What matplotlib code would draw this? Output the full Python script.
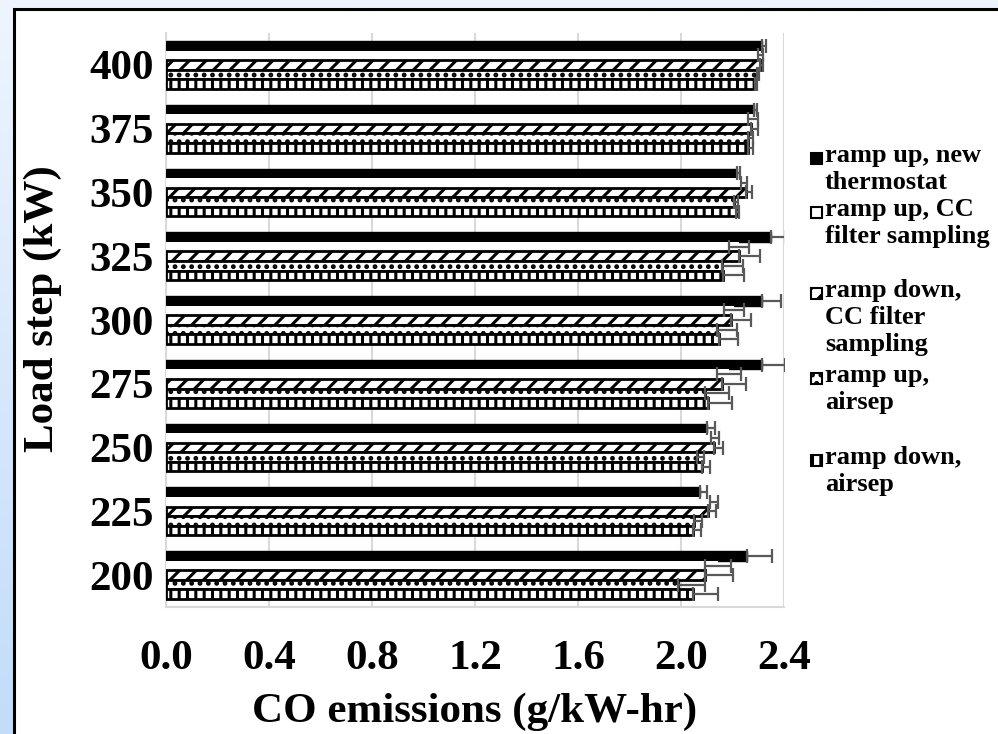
# Emisiones de CO por escalón de carga (barras horizontales agrupadas con barras de error)
import numpy as np
import matplotlib.pyplot as plt
from matplotlib.patches import Rectangle
from matplotlib.colors import LinearSegmentedColormap

plt.rcParams['font.family'] = ['Liberation Serif', 'DejaVu Serif']
plt.rcParams['font.weight'] = 'bold'
plt.rcParams['axes.labelweight'] = 'bold'
plt.rcParams['hatch.linewidth'] = 2.2

# Datos (de abajo hacia arriba)
cargas = ['200', '225', '250', '275', '300', '325', '350', '375', '400']

nuevo_termostato = [2.255, 2.073, 2.100, 2.315, 2.315, 2.348, 2.218, 2.282, 2.315]
err_nuevo = [0.100, 0.027, 0.032, 0.090, 0.075, 0.060, 0.010, 0.015, 0.015]

cc_subida = [2.145, 2.127, 2.131, 2.187, 2.206, 2.225, 2.245, 2.280, 2.310]
err_cc_subida = [0.050, 0.015, 0.015, 0.046, 0.038, 0.039, 0.012, 0.020, 0.010]

cc_bajada = [2.094, 2.105, 2.129, 2.161, 2.194, 2.225, 2.253, 2.270, 2.307]
err_cc_bajada = [0.108, 0.032, 0.035, 0.092, 0.076, 0.080, 0.024, 0.030, 0.012]

air_subida = [1.987, 2.052, 2.061, 2.094, 2.140, 2.158, 2.207, 2.260, 2.294]
err_air_subida = [0.106, 0.030, 0.030, 0.092, 0.077, 0.082, 0.015, 0.020, 0.010]

air_bajada = [2.048, 2.048, 2.081, 2.105, 2.149, 2.165, 2.213, 2.260, 2.287]
err_air_bajada = [0.097, 0.030, 0.030, 0.094, 0.074, 0.080, 0.012, 0.020, 0.010]

etiquetas_x = ['0.0', '0.4', '0.8', '1.2', '1.6', '2.0', '2.4']
leyenda = ['ramp up, new\nthermostat',
           'ramp up, CC\nfilter sampling',
           'ramp down,\nCC filter\nsampling',
           'ramp up,\nairsep',
           'ramp down,\nairsep']

W, H = 998, 734
fig = plt.figure(figsize=(W / 100, H / 100), dpi=100)

# Fondo degradado azul claro y marco blanco con borde negro
bg = fig.add_axes([0, 0, 1, 1], zorder=-10)
grad = np.linspace(0, 1, 256).reshape(-1, 1)
cmap = LinearSegmentedColormap.from_list('fondo', ['#eef5ff', '#c2dcfa'])
bg.imshow(grad, aspect='auto', cmap=cmap, extent=[0, 1, 0, 1], origin='upper')
bg.add_patch(Rectangle((14 / W, -0.05), 1.1, 1 - 9 / H + 0.05, facecolor='white',
                       edgecolor='black', lw=2.2, transform=bg.transAxes, clip_on=False))
bg.set_xlim(0, 1)
bg.set_ylim(0, 1)
bg.axis('off')

ax = fig.add_axes([166 / W, 1 - 607 / H, 618 / W, 574 / H])
ax.set_facecolor('white')

y = np.arange(len(cargas))
h = 0.15
n = len(cargas)
ceros = np.zeros(n)
estilo_err = dict(fmt='none', ecolor='#595959', elinewidth=1.6, capsize=5, capthick=1.6, zorder=6)

# Serie 1: negro sólido
ax.barh(y + 2 * h, nuevo_termostato, height=h, color='black', edgecolor='black', lw=1.0, zorder=3)
ax.errorbar(nuevo_termostato, y + 2 * h, xerr=[ceros, err_nuevo], **estilo_err)

# Serie 2: blanco sin borde
ax.barh(y + h, cc_subida, height=h, color='white', edgecolor='none', zorder=3)
ax.errorbar(cc_subida, y + h, xerr=err_cc_subida, **estilo_err)

# Serie 3: diagonal
ax.barh(y, cc_bajada, height=h, color='white', edgecolor='black', hatch='//', lw=2.0, zorder=3)
ax.errorbar(cc_bajada, y, xerr=[ceros, err_cc_bajada], **estilo_err)

# Serie 4: puntos
ax.barh(y - h, air_subida, height=h, color='white', edgecolor='black', hatch='..', lw=2.0, zorder=3)
ax.errorbar(air_subida, y - h, xerr=[ceros, err_air_subida], **estilo_err)

# Serie 5: cuadritos
ax.barh(y - 2 * h, air_bajada, height=h, color='white', edgecolor='black', hatch='||', lw=2.0, zorder=3)
ax.errorbar(air_bajada, y - 2 * h, xerr=[ceros, err_air_bajada], **estilo_err)

ax.set_xlim(0, 2.4)
ax.set_ylim(-0.5, n - 0.5)
ax.set_xticks([float(t) for t in etiquetas_x])
ax.set_xticklabels(etiquetas_x, fontsize=31, fontweight='bold')
ax.set_yticks(y)
ax.set_yticklabels(cargas, fontsize=31, fontweight='bold')
ax.tick_params(axis='both', length=0)
ax.tick_params(axis='x', pad=24)
ax.tick_params(axis='y', pad=9)
ax.grid(axis='x', color='#d9d9d9', lw=1.5, zorder=0)
ax.set_axisbelow(True)
for lado in ['top', 'right']:
    ax.spines[lado].set_visible(False)
for lado in ['left', 'bottom']:
    ax.spines[lado].set_color('#d9d9d9')
    ax.spines[lado].set_linewidth(1.5)

ax.set_xlabel('CO emissions (g/kW-hr)', fontsize=31, fontweight='bold')
ax.xaxis.set_label_coords(0.5, (607 - 712) / 574)
ax.xaxis.label.set_verticalalignment('center')
ax.set_ylabel('Load step (kW)', fontsize=31, fontweight='bold')
ax.yaxis.set_label_coords((43 - 166) / 618, 0.52)
ax.yaxis.label.set_verticalalignment('center')

# Leyenda dibujada a mano (entradas con espaciado uniforme, como en el original)
estilos = [dict(facecolor='black', edgecolor='black'),
           dict(facecolor='white', edgecolor='black'),
           dict(facecolor='white', edgecolor='black', hatch='//'),
           dict(facecolor='white', edgecolor='black', hatch='..'),
           dict(facecolor='white', edgecolor='black', hatch='||')]
y_items = [158, 212, 293, 378, 460]
for texto, est, yy in zip(leyenda, estilos, y_items):
    fig.add_artist(Rectangle((811 / W, 1 - (yy + 6) / H), 11 / W, 11 / H, lw=1.5,
                             transform=fig.transFigure, **est))
    fig.text(825 / W, 1 - (yy - 14) / H, texto, fontsize=19, va='top', linespacing=1.22,
             fontweight='bold')

fig.savefig('out.png', dpi=100)
